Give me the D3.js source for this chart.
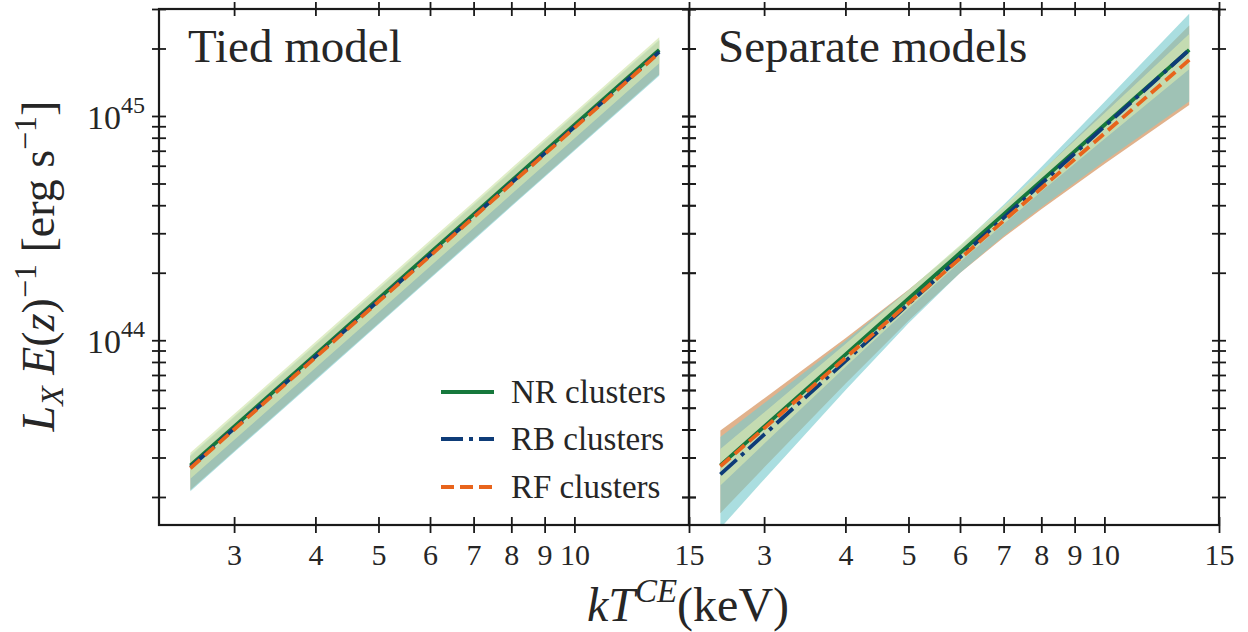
<!DOCTYPE html>
<html>
<head>
<meta charset="utf-8">
<script src="https://cdn.jsdelivr.net/npm/d3@7"></script>
<style>
  body { margin: 0; background: #fff; }
</style>
</head>
<body>
<svg id="chart" width="1248" height="632"></svg>
<script>
// Temperature grid (keV) at which the relations and their bands are sampled
const kT = [2.57, 3, 4, 5, 6, 7, 8, 10, 13.5];

// Tied model: log10 L_X E(z)^-1 [erg/s]
const tiedNR   = [43.442, 43.615, 43.936, 44.185, 44.389, 44.561, 44.711, 44.960, 45.295];
const tiedRB   = [43.433, 43.606, 43.927, 44.176, 44.380, 44.552, 44.702, 44.951, 45.286];
const tiedRF   = [43.429, 43.602, 43.923, 44.172, 44.376, 44.548, 44.698, 44.947, 45.282];
const tiedNRhi = [43.498, 43.671, 43.992, 44.241, 44.445, 44.617, 44.767, 45.016, 45.351];
const tiedNRlo = [43.382, 43.555, 43.876, 44.125, 44.329, 44.501, 44.651, 44.900, 45.235];
const tiedRBhi = [43.487, 43.660, 43.981, 44.230, 44.434, 44.606, 44.756, 45.005, 45.340];
const tiedRBlo = [43.327, 43.500, 43.821, 44.070, 44.274, 44.446, 44.596, 44.845, 45.180];
const tiedRFhi = [43.482, 43.655, 43.976, 44.225, 44.429, 44.601, 44.751, 45.000, 45.335];
const tiedRFlo = [43.332, 43.505, 43.826, 44.075, 44.279, 44.451, 44.601, 44.850, 45.185];

// Separate models: log10 L_X E(z)^-1 [erg/s]
const sepNR   = [43.442, 43.615, 43.936, 44.185, 44.389, 44.561, 44.711, 44.960, 45.295];
const sepRB   = [43.402, 43.579, 43.907, 44.162, 44.370, 44.546, 44.698, 44.953, 45.295];
const sepRF   = [43.438, 43.607, 43.921, 44.165, 44.364, 44.532, 44.678, 44.922, 45.250];
const sepNRhi = [43.515, 43.678, 43.983, 44.223, 44.424, 44.598, 44.752, 45.012, 45.366];
const sepNRlo = [43.352, 43.538, 43.881, 44.141, 44.349, 44.518, 44.663, 44.897, 45.209];
const sepRBhi = [43.569, 43.719, 43.998, 44.223, 44.420, 44.604, 44.772, 45.062, 45.456];
const sepRBlo = [43.162, 43.379, 43.777, 44.076, 44.300, 44.465, 44.593, 44.798, 45.065];
const sepRFhi = [43.597, 43.740, 44.009, 44.225, 44.414, 44.589, 44.750, 45.026, 45.403];
const sepRFlo = [43.229, 43.432, 43.806, 44.087, 44.300, 44.458, 44.584, 44.786, 45.049];

// Axis ticks and labels
const xTickValues = [3, 4, 5, 6, 7, 8, 9, 10, 15];
const yLabelExponents = [44, 45];
const panelTitles = ["Tied model", "Separate models"];
const seriesNames = ["NR clusters", "RB clusters", "RF clusters"];

const FONT = "'Liberation Serif', serif";

// Styles per sample
const lineStyle = {
  NR: { color: "#16783c", dash: null },
  RB: { color: "#0e3c78", dash: "22,6,4,6" },
  RF: { color: "#e8641c", dash: "13,6" }
};
const bandStyle = {
  RF: { color: "#c4651a", opacity: 0.5 },
  RB: { color: "#78cbce", opacity: 0.63 },
  NR: { color: "#d4e6af", opacity: 0.7 }
};

function rows(mid, lo, hi) {
  return kT.map((t, i) => ({ kT: t, mid: Math.pow(10, mid[i]), lo: Math.pow(10, lo[i]), hi: Math.pow(10, hi[i]) }));
}
const panels = [
  { title: panelTitles[0], series: {
      NR: rows(tiedNR, tiedNRlo, tiedNRhi),
      RB: rows(tiedRB, tiedRBlo, tiedRBhi),
      RF: rows(tiedRF, tiedRFlo, tiedRFhi) } },
  { title: panelTitles[1], series: {
      NR: rows(sepNR, sepNRlo, sepNRhi),
      RB: rows(sepRB, sepRBlo, sepRBhi),
      RF: rows(sepRF, sepRFlo, sepRFhi) } }
];

const svg = d3.select("#chart").attr("font-family", FONT);
const W = 530, yTop = 9, yBottom = 525;
const panelLeft = [159, 689];

const x = d3.scaleLog().domain([2.3, 15]).range([0, W]);
const y = d3.scaleLog().domain([1.5e43, 3e45]).range([yBottom, yTop]);

const area = d3.area().x(d => x(d.kT)).y0(d => y(d.lo)).y1(d => y(d.hi));
const line = d3.line().x(d => x(d.kT)).y(d => y(d.mid));

function label(sel) {
  return sel.style("font-family", FONT).attr("fill", "#262626");
}

const defs = svg.append("defs");

panels.forEach((p, pi) => {
  const g = svg.append("g").attr("transform", `translate(${panelLeft[pi]},0)`);
  defs.append("clipPath").attr("id", "clip" + pi)
    .append("rect").attr("x", 0).attr("y", yTop).attr("width", W).attr("height", yBottom - yTop);
  const plot = g.append("g").attr("clip-path", `url(#clip${pi})`);

  // uncertainty bands
  ["RF", "RB", "NR"].forEach(k => {
    plot.append("path").datum(p.series[k]).attr("d", area)
      .attr("fill", bandStyle[k].color).attr("fill-opacity", bandStyle[k].opacity);
  });
  // best-fit relations
  ["NR", "RB", "RF"].forEach(k => {
    plot.append("path").datum(p.series[k]).attr("d", line)
      .attr("fill", "none").attr("stroke", lineStyle[k].color)
      .attr("stroke-width", 3.8)
      .attr("stroke-dasharray", lineStyle[k].dash);
  });

  // axes with ticks crossing the frame
  const yTicks = y.ticks();
  const axB = g.append("g").attr("transform", `translate(0,${yBottom})`)
    .call(d3.axisBottom(x).tickValues(xTickValues).tickFormat(d3.format("d")).tickSize(8));
  axB.selectAll(".tick line").attr("y1", -8).attr("y2", 8);
  label(axB.selectAll(".tick text")).attr("y", 19).attr("dy", "0.71em").style("font-size", "30px");
  const axT = g.append("g").attr("transform", `translate(0,${yTop})`)
    .call(d3.axisTop(x).tickValues(xTickValues).tickFormat("").tickSize(8));
  axT.selectAll(".tick line").attr("y1", -7).attr("y2", 7);
  const axL = g.append("g").call(d3.axisLeft(y).tickValues(yTicks).tickFormat("").tickSize(7));
  axL.selectAll(".tick line").attr("x1", -7).attr("x2", 7);
  const axR = g.append("g").attr("transform", `translate(${W},0)`)
    .call(d3.axisRight(y).tickValues(yTicks).tickFormat("").tickSize(7));
  axR.selectAll(".tick line").attr("x1", -7).attr("x2", 7);
  [axB, axT, axL, axR].forEach(a => {
    a.attr("font-family", FONT);
    a.select(".domain").remove();
    a.selectAll(".tick line").attr("stroke", "#1a1a1a").attr("stroke-width", 1.8);
  });
  g.append("rect").attr("x", 0).attr("y", yTop).attr("width", W).attr("height", yBottom - yTop)
    .attr("fill", "none").attr("stroke", "#1a1a1a").attr("stroke-width", 2.2);

  // panel title
  label(g.append("text")).attr("x", 29).attr("y", 62).style("font-size", "47px").text(p.title);

  if (pi === 0) {
    // y tick labels as powers of ten
    yLabelExponents.forEach(e => {
      const t = label(g.append("text")).attr("x", -14).attr("y", y(Math.pow(10, e)) + 13)
        .attr("text-anchor", "end").style("font-size", "34px");
      t.append("tspan").text("10");
      t.append("tspan").attr("dy", -16).style("font-size", "24px").text(String(e));
    });

    // legend
    const keys = ["NR", "RB", "RF"];
    const legY = [392, 439, 487];
    keys.forEach((k, i) => {
      g.append("line").attr("x1", 282).attr("x2", 335).attr("y1", legY[i]).attr("y2", legY[i])
        .attr("stroke", lineStyle[k].color).attr("stroke-width", 3.8)
        .attr("stroke-dasharray", lineStyle[k].dash);
      label(g.append("text")).attr("x", 352).attr("y", legY[i] + 11).style("font-size", "33px").text(seriesNames[i]);
    });
  }
});

// x-axis title
const xt = label(svg.append("text")).attr("x", 688).attr("y", 621).attr("text-anchor", "middle").style("font-size", "48px");
xt.append("tspan").style("font-style", "italic").text("kT");
xt.append("tspan").attr("dy", -19).style("font-size", "33px").style("font-style", "italic").text("CE");
xt.append("tspan").attr("dy", 19).text("(keV)");

// y-axis title
const yt = label(svg.append("text")).attr("transform", "translate(54,266) rotate(-90)")
  .attr("text-anchor", "middle").style("font-size", "46px");
yt.append("tspan").style("font-style", "italic").text("L");
yt.append("tspan").attr("dy", 9).style("font-size", "32px").style("font-style", "italic").text("X");
yt.append("tspan").attr("dy", -9).style("font-style", "italic").text(" E");
yt.append("tspan").text("(");
yt.append("tspan").style("font-style", "italic").text("z");
yt.append("tspan").text(")");
yt.append("tspan").attr("dy", -18).style("font-size", "32px").text("\u22121");
yt.append("tspan").attr("dy", 18).text(" [erg s");
yt.append("tspan").attr("dy", -18).style("font-size", "32px").text("\u22121");
yt.append("tspan").attr("dy", 18).text("]");
</script>
</body>
</html>
